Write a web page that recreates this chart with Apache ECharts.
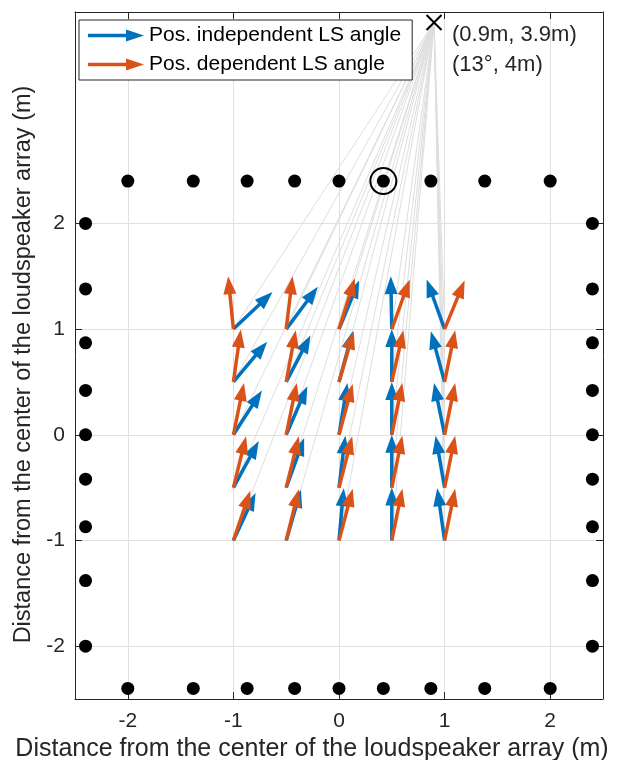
<!DOCTYPE html>
<html>
<head>
<meta charset="utf-8">
<script src="https://cdn.jsdelivr.net/npm/echarts@6/dist/echarts.min.js"></script>
<style>
  html, body { margin: 0; padding: 0; background: #fff; }
  #chart { width: 619px; height: 760px; }
</style>
</head>
<body>
<div id="chart"></div>
<script>
// axis ticks
const xTicks = [-2, -1, 0, 1, 2];
const yTicks = [-2, -1, 0, 1, 2];

// loudspeakers: top/bottom rows and left/right columns
const rowX = [-2, -1.38, -0.87, -0.42, 0, 0.42, 0.87, 1.38, 2];
const rowY = [2.4, -2.4];
const colX = [-2.4, 2.4];
const colY = [2, 1.38, 0.87, 0.42, 0, -0.42, -0.87, -1.38, -2];
const selectedSpeaker = [0.42, 2.4];

// virtual source and its labels
const source = [0.9, 3.9];
const sourceLabels = ['(0.9m, 3.9m)', '(13°, 4m)'];

// listening positions (rows follow listenY, columns follow listenX)
const listenX = [-1, -0.5, 0, 0.5, 1];
const listenY = [1, 0.5, 0, -0.5, -1];

// Pos. independent LS angle (blue) arrow components
const blueU = [
  [0.37, 0.30, 0.19, -0.01, -0.17],
  [0.32, 0.23, 0.13, 0.00, -0.13],
  [0.27, 0.20, 0.08, 0.00, -0.10],
  [0.24, 0.17, 0.06, 0.00, -0.085],
  [0.21, 0.14, 0.045, 0.00, -0.07]
];
const blueV = [
  [0.35, 0.40, 0.46, 0.50, 0.47],
  [0.38, 0.44, 0.48, 0.50, 0.48],
  [0.42, 0.46, 0.49, 0.50, 0.49],
  [0.44, 0.47, 0.49, 0.50, 0.49],
  [0.45, 0.48, 0.495, 0.50, 0.495]
];
// Pos. dependent LS angle (orange) arrow components
const orangeU = [
  [-0.05, 0.06, 0.15, 0.17, 0.19],
  [0.07, 0.09, 0.14, 0.11, 0.10],
  [0.10, 0.10, 0.13, 0.10, 0.10],
  [0.12, 0.12, 0.125, 0.10, 0.10],
  [0.16, 0.12, 0.13, 0.10, 0.10]
];
const orangeV = [
  [0.50, 0.50, 0.48, 0.47, 0.46],
  [0.495, 0.49, 0.48, 0.49, 0.49],
  [0.49, 0.49, 0.48, 0.49, 0.49],
  [0.485, 0.485, 0.485, 0.49, 0.49],
  [0.47, 0.485, 0.49, 0.49, 0.49]
];

const seriesNames = ['Pos. independent LS angle', 'Pos. dependent LS angle'];
const axisTitle = 'Distance from the center of the loudspeaker array (m)';

const BLUE = '#0072BD';
const ORANGE = '#D95319';
const AX = '#262626';
const FONT = '"Liberation Sans", Arial, Helvetica, sans-serif';

const speakers = [];
rowY.forEach(y => rowX.forEach(x => speakers.push([x, y])));
colX.forEach(x => colY.forEach(y => speakers.push([x, y])));

function arrowData(U, V) {
  const out = [];
  listenY.forEach((y, i) => listenX.forEach((x, j) => out.push([x, y, U[i][j], V[i][j]])));
  return out;
}

const rays = [];
listenY.forEach(y => listenX.forEach(x => rays.push({ coords: [source, [x, y]] })));

function arrowRenderer(color) {
  return function (params, api) {
    const x = api.value(0), y = api.value(1), u = api.value(2), v = api.value(3);
    const p0 = api.coord([x, y]);
    const p1 = api.coord([x + u, y + v]);
    const dx = p1[0] - p0[0], dy = p1[1] - p0[1];
    const len = Math.hypot(dx, dy);
    const ux = dx / len, uy = dy / len;
    const hl = 18, hw = 6.5;
    const bx = p1[0] - ux * hl, by = p1[1] - uy * hl;
    const nx = -uy, ny = ux;
    return {
      type: 'group',
      children: [
        { type: 'line', shape: { x1: p0[0], y1: p0[1], x2: bx + ux * 3, y2: by + uy * 3 },
          style: { stroke: color, lineWidth: 3.5 } },
        { type: 'polygon', shape: { points: [p1, [bx + nx * hw, by + ny * hw], [bx - nx * hw, by - ny * hw]] },
          style: { fill: color } }
      ]
    };
  };
}

const arrowIcon = 'path://M0,4.3L38,4.3L38,0L56,6L38,12L38,7.7L0,7.7Z';

const chart = echarts.init(document.getElementById('chart'), null, { renderer: 'canvas' });

const tickCommon = { show: true, inside: true, length: 7, lineStyle: { color: AX, width: 1 } };

chart.setOption({
  backgroundColor: '#fff',
  animation: false,
  textStyle: { fontFamily: FONT },
  grid: { left: 75, right: 16, top: 12, bottom: 61, containLabel: false, outerBoundsMode: 'none' },
  legend: {
    orient: 'vertical',
    left: 79, top: 20,
    padding: [5, 11, 5, 9],
    itemGap: 8,
    itemWidth: 56, itemHeight: 12,
    borderColor: AX, borderWidth: 1, borderRadius: 0,
    backgroundColor: '#fff',
    textStyle: { fontFamily: FONT, fontSize: 21, color: '#000' },
    data: [
      { name: seriesNames[0], icon: arrowIcon },
      { name: seriesNames[1], icon: arrowIcon }
    ],
    selectedMode: false
  },
  xAxis: [{
    type: 'value', min: -2.5, max: 2.5, position: 'bottom',
    axisLine: { show: true, onZero: false, lineStyle: { color: AX, width: 1 } },
    axisTick: Object.assign({ customValues: xTicks }, tickCommon),
    axisLabel: { customValues: xTicks, margin: 12, fontSize: 21, color: AX, fontFamily: FONT },
    splitLine: { show: true, lineStyle: { color: '#e0e0e0', width: 1 } },
    name: axisTitle, nameLocation: 'middle', nameGap: 35,
    nameTextStyle: { fontSize: 25, color: AX, fontFamily: FONT, padding: [0, 54, 0, 0] }
  }, {
    type: 'value', min: -2.5, max: 2.5, position: 'top',
    axisLine: { show: true, onZero: false, lineStyle: { color: AX, width: 1 } },
    axisTick: Object.assign({ customValues: xTicks }, tickCommon),
    axisLabel: { show: false },
    splitLine: { show: false }
  }],
  yAxis: [{
    type: 'value', min: -2.5, max: 4, position: 'left',
    axisLine: { show: true, onZero: false, lineStyle: { color: AX, width: 1 } },
    axisTick: Object.assign({ customValues: yTicks }, tickCommon),
    axisLabel: { customValues: yTicks, margin: 10, fontSize: 21, color: AX, fontFamily: FONT },
    splitLine: { show: true, lineStyle: { color: '#e0e0e0', width: 1 } },
    name: axisTitle, nameLocation: 'middle', nameGap: 30, nameRotate: 90,
    nameTextStyle: { fontSize: 23.5, color: AX, fontFamily: FONT, padding: [0, 18, 0, 0] }
  }, {
    type: 'value', min: -2.5, max: 4, position: 'right',
    axisLine: { show: true, onZero: false, lineStyle: { color: AX, width: 1 } },
    axisTick: Object.assign({ customValues: yTicks }, tickCommon),
    axisLabel: { show: false },
    splitLine: { show: false }
  }],
  series: [
    {
      name: 'rays', type: 'lines', coordinateSystem: 'cartesian2d',
      xAxisIndex: 0, yAxisIndex: 0, silent: true, z: 1,
      lineStyle: { color: '#dedede', width: 1, opacity: 1 },
      data: rays
    },
    {
      name: seriesNames[0], type: 'custom', xAxisIndex: 0, yAxisIndex: 0, z: 3,
      itemStyle: { color: BLUE },
      renderItem: arrowRenderer(BLUE),
      data: arrowData(blueU, blueV)
    },
    {
      name: seriesNames[1], type: 'custom', xAxisIndex: 0, yAxisIndex: 0, z: 4,
      itemStyle: { color: ORANGE },
      renderItem: arrowRenderer(ORANGE),
      data: arrowData(orangeU, orangeV)
    },
    {
      name: 'speakers', type: 'scatter', xAxisIndex: 0, yAxisIndex: 0, z: 5,
      symbol: 'circle', symbolSize: 13,
      itemStyle: { color: '#000', opacity: 1 },
      data: speakers
    },
    {
      name: 'selected', type: 'scatter', xAxisIndex: 0, yAxisIndex: 0, z: 5,
      symbol: 'circle', symbolSize: 26,
      itemStyle: { color: 'rgba(0,0,0,0)', borderColor: '#000', borderWidth: 2, opacity: 1 },
      data: [selectedSpeaker]
    },
    {
      name: 'source', type: 'custom', xAxisIndex: 0, yAxisIndex: 0, z: 6,
      renderItem: function (params, api) {
        const p = api.coord([api.value(0), api.value(1)]);
        const s = 7.5;
        return {
          type: 'group',
          children: [
            { type: 'line', shape: { x1: p[0] - s, y1: p[1] - s, x2: p[0] + s, y2: p[1] + s },
              style: { stroke: '#000', lineWidth: 2 } },
            { type: 'line', shape: { x1: p[0] - s, y1: p[1] + s, x2: p[0] + s, y2: p[1] - s },
              style: { stroke: '#000', lineWidth: 2 } },
            { type: 'text', x: p[0] + 18, y: p[1] + 27,
              style: { text: sourceLabels.join('\n'), fill: AX, font: '22px ' + FONT,
                       lineHeight: 30, align: 'left', verticalAlign: 'middle' } }
          ]
        };
      },
      data: [source]
    }
  ]
});
</script>
</body>
</html>
